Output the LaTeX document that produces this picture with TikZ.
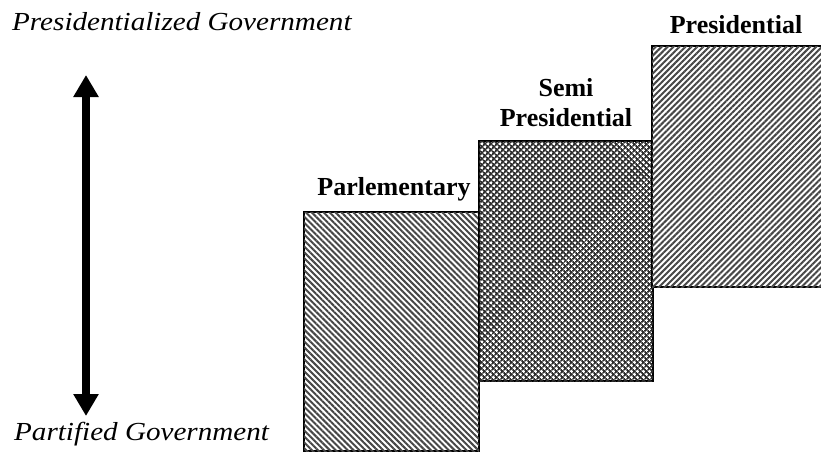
\documentclass[tikz,border=0pt]{standalone}
\usepackage{fontspec}
\setmainfont{Liberation Serif}
\newfontfamily\stretchit{Liberation Serif}[FakeStretch=1.12]
\usetikzlibrary{arrows.meta,patterns.meta}
\tikzset{
  boxbase/.style={draw=black, line width=1.4pt},
  nwlines/.style={boxbase, fill=white, postaction={pattern={Lines[angle=-45,distance=4.2pt,line width=2pt]}, pattern color=black!72}},
  nelines/.style={boxbase, fill=white, postaction={pattern={Lines[angle=45,distance=4.2pt,line width=2pt]}, pattern color=black!72}},
  hatch/.style={boxbase, fill=white,
    postaction={pattern={Lines[angle=45,distance=4pt,line width=1.9pt]}, pattern color=black!82},
    postaction={pattern={Lines[angle=-45,distance=4pt,line width=1.9pt]}, pattern color=black!82}},
  boldlabel/.style={font=\fontsize{26}{30}\selectfont\bfseries, inner sep=0pt, align=center},
  itlabel/.style={font=\stretchit\itshape\fontsize{26}{30}\selectfont, inner sep=0pt, anchor=base west},
  bigarrow/.style={line width=8pt, {Triangle[width=24pt,length=22pt]}-{Triangle[width=24pt,length=22pt]}}
}
\begin{document}
\begin{tikzpicture}[x=1pt,y=-1pt]
\path[use as bounding box] (0,0) rectangle (821,453);
% boxes
\path[nwlines] (304,212) rectangle (479,451);
\node[inner sep=0pt] (parl) at (391.5,331.5) {};
\path[hatch] (479,141) rectangle (653,381);
\node[inner sep=0pt] (semi) at (566,261) {};
\path[nelines] (652,46) rectangle (823,287);
\node[inner sep=0pt] (pres) at (736,166) {};
% labels
\node[boldlabel] (lpres) at (736,25) {Presidential};
\node[boldlabel] (lsemi) at (566,103) {Semi\\Presidential};
\node[boldlabel] (lparl) at (394,189) {Parlementary};
\node[itlabel] (ltop) at (12,30) {Presidentialized Government};
\node[itlabel] (lbot) at (14,440) {Partified Government};
% arrow
\coordinate (atop) at (86,75);
\coordinate (abot) at (86,416);
\draw[bigarrow] (atop) -- (abot);
\end{tikzpicture}
\end{document}
